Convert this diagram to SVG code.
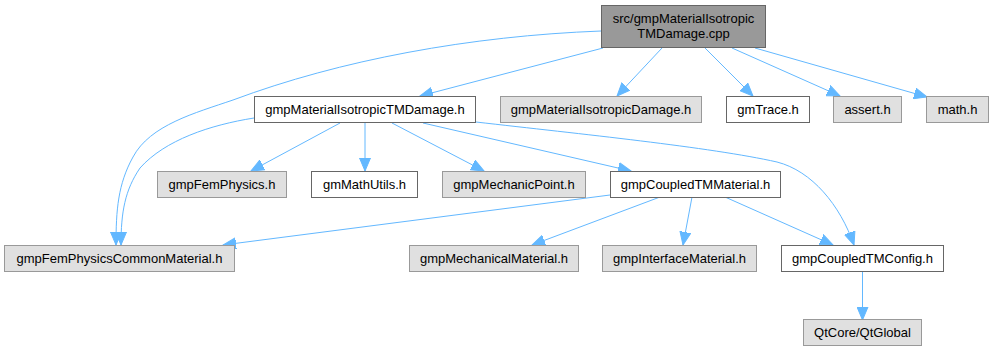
<svg xmlns="http://www.w3.org/2000/svg" width="993" height="352" viewBox="0 0 993 352">
<style>
.root rect{fill:#999999;stroke:#666666;stroke-width:1}
.white rect{fill:#ffffff;stroke:#666666;stroke-width:1}
.gray rect{fill:#e0e0e0;stroke:#999999;stroke-width:1}
text{font-family:"Liberation Sans",Arial,sans-serif;font-size:13px;fill:#000000;text-anchor:middle}
#edges path{fill:none;stroke:#63b8ff;stroke-width:1;marker-end:url(#arrow)}
</style>
<defs>
<marker id="arrow" markerUnits="userSpaceOnUse" markerWidth="14" markerHeight="12" viewBox="0 0 14 12" refX="13" refY="6" orient="auto">
<path d="M0,0.5 L13,6 L0,11.5 z" fill="#63b8ff" stroke="#63b8ff" stroke-width="1"/>
</marker>
</defs>
<rect width="993" height="352" fill="#ffffff"/>
<g id="edges">
<path d="M603,48 L420,96"/>
<path d="M601,31 C470,36 340,60 233,100 C195,113 150,125 133,157 C118,184 116,210 116,245"/>
<path d="M254,118 C210,125 165,140 140,168 C125,190 121,212 121,245"/>
<path d="M340,123 L251,171"/>
<path d="M365,123 L365,171"/>
<path d="M392,123 L484,171"/>
<path d="M423,123 L631,171"/>
<path d="M476,122 C580,134 710,147 777,162 C812,171 840,205 854,245"/>
<path d="M610,195 L223,245"/>
<path d="M660,197 L532,245"/>
<path d="M692,197 L683,245"/>
<path d="M725,197 L833,245"/>
<path d="M862.5,272 L862.5,320"/>
<path d="M662,48 L617,96"/>
<path d="M705,48 L753,96"/>
<path d="M732,48 L840,96"/>
<path d="M755,48 L927,97"/>
</g>
<g id="node_root" class="root"><rect x="601.5" y="5.5" width="164" height="42"/><text x="683.5" y="22.5">src/gmpMaterialIsotropic</text><text x="683.5" y="37.5">TMDamage.cpp</text></g>
<g id="node_tmdamage_h" class="white"><rect x="254.5" y="96.5" width="221" height="26"/><text x="365" y="113.5">gmpMaterialIsotropicTMDamage.h</text></g>
<g id="node_isodamage_h" class="gray"><rect x="500.5" y="96.5" width="201" height="26"/><text x="601" y="113.5">gmpMaterialIsotropicDamage.h</text></g>
<g id="node_gmtrace_h" class="white"><rect x="726.5" y="96.5" width="83" height="26"/><text x="768" y="113.5">gmTrace.h</text></g>
<g id="node_assert_h" class="gray"><rect x="833.5" y="96.5" width="68" height="26"/><text x="867.5" y="113.5">assert.h</text></g>
<g id="node_math_h" class="gray"><rect x="926.5" y="96.5" width="62" height="26"/><text x="957.5" y="113.5">math.h</text></g>
<g id="node_femphysics_h" class="gray"><rect x="157.5" y="171.5" width="129" height="26"/><text x="222" y="188.5">gmpFemPhysics.h</text></g>
<g id="node_mathutils_h" class="white"><rect x="311.5" y="171.5" width="106" height="26"/><text x="364.5" y="188.5">gmMathUtils.h</text></g>
<g id="node_mechanicpoint_h" class="gray"><rect x="442.5" y="171.5" width="143" height="26"/><text x="514" y="188.5">gmpMechanicPoint.h</text></g>
<g id="node_coupledtmmaterial_h" class="white"><rect x="610.5" y="171.5" width="170" height="26"/><text x="695.5" y="188.5">gmpCoupledTMMaterial.h</text></g>
<g id="node_femcommon_h" class="gray"><rect x="4.5" y="245.5" width="230" height="26"/><text x="119.5" y="262.5">gmpFemPhysicsCommonMaterial.h</text></g>
<g id="node_mechanicalmaterial_h" class="gray"><rect x="409.5" y="245.5" width="169" height="26"/><text x="494" y="262.5">gmpMechanicalMaterial.h</text></g>
<g id="node_interfacematerial_h" class="gray"><rect x="602.5" y="245.5" width="154" height="26"/><text x="679.5" y="262.5">gmpInterfaceMaterial.h</text></g>
<g id="node_coupledtmconfig_h" class="white"><rect x="781.5" y="245.5" width="162" height="26"/><text x="862.5" y="262.5">gmpCoupledTMConfig.h</text></g>
<g id="node_qtglobal" class="gray"><rect x="803.5" y="319.5" width="118" height="26"/><text x="862.5" y="336.5">QtCore/QtGlobal</text></g>
</svg>
